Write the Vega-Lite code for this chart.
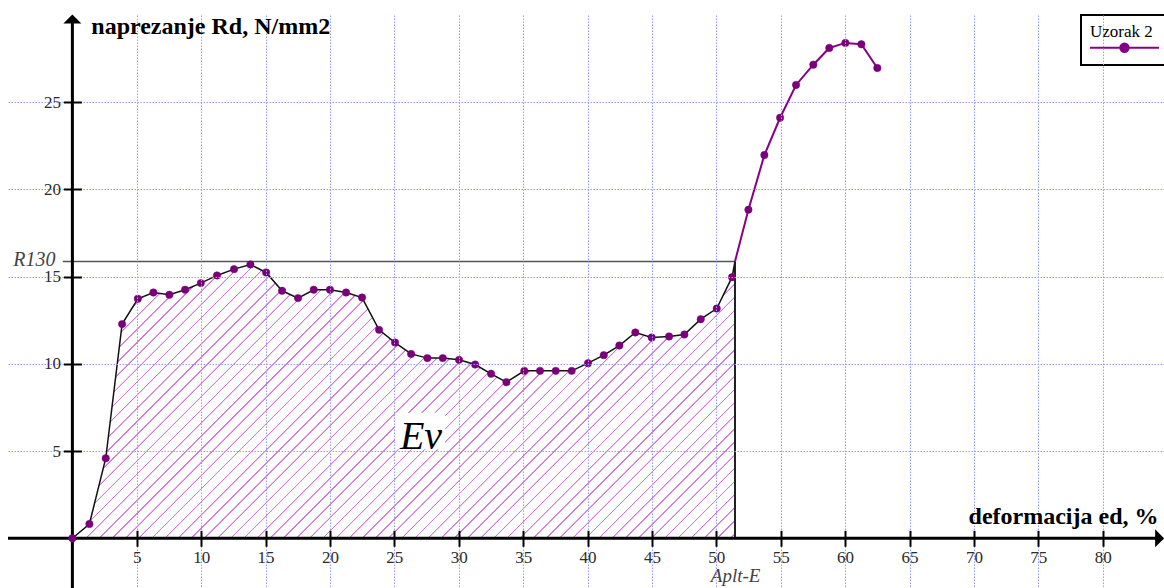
{
  "$schema": "https://vega.github.io/schema/vega-lite/v6.json",
  "width": 1156,
  "height": 573,
  "autosize": {"type": "none"},
  "padding": {"left": 8, "top": 15, "right": 0, "bottom": 0},
  "background": "white",
  "config": {"view": {"stroke": null}, "legend": {"strokeWidth": 2}},
  "datasets": {
    "curve": [
      {"e": 0, "r": 0, "p": "A", "d": 1},
      {"e": 1.32, "r": 0.82, "p": "A", "d": 1},
      {"e": 2.59, "r": 4.59, "p": "A", "d": 1},
      {"e": 3.86, "r": 12.28, "p": "A", "d": 1},
      {"e": 5.08, "r": 13.73, "p": "A", "d": 1},
      {"e": 6.29, "r": 14.09, "p": "A", "d": 1},
      {"e": 7.53, "r": 13.96, "p": "A", "d": 1},
      {"e": 8.75, "r": 14.25, "p": "A", "d": 1},
      {"e": 9.97, "r": 14.63, "p": "A", "d": 1},
      {"e": 11.23, "r": 15.07, "p": "A", "d": 1},
      {"e": 12.55, "r": 15.43, "p": "A", "d": 1},
      {"e": 13.82, "r": 15.7, "p": "A", "d": 1},
      {"e": 15.04, "r": 15.24, "p": "A", "d": 1},
      {"e": 16.28, "r": 14.19, "p": "A", "d": 1},
      {"e": 17.52, "r": 13.77, "p": "A", "d": 1},
      {"e": 18.74, "r": 14.25, "p": "A", "d": 1},
      {"e": 20.0, "r": 14.25, "p": "A", "d": 1},
      {"e": 21.25, "r": 14.09, "p": "A", "d": 1},
      {"e": 22.49, "r": 13.8, "p": "A", "d": 1},
      {"e": 23.81, "r": 11.95, "p": "A", "d": 1},
      {"e": 25.05, "r": 11.22, "p": "A", "d": 1},
      {"e": 26.3, "r": 10.57, "p": "A", "d": 1},
      {"e": 27.56, "r": 10.33, "p": "A", "d": 1},
      {"e": 28.76, "r": 10.33, "p": "A", "d": 1},
      {"e": 30.02, "r": 10.23, "p": "A", "d": 1},
      {"e": 31.27, "r": 9.96, "p": "A", "d": 1},
      {"e": 32.51, "r": 9.43, "p": "A", "d": 1},
      {"e": 33.7, "r": 8.95, "p": "A", "d": 1},
      {"e": 35.09, "r": 9.6, "p": "A", "d": 1},
      {"e": 36.31, "r": 9.6, "p": "A", "d": 1},
      {"e": 37.53, "r": 9.6, "p": "A", "d": 1},
      {"e": 38.77, "r": 9.6, "p": "A", "d": 1},
      {"e": 40.04, "r": 10.04, "p": "A", "d": 1},
      {"e": 41.26, "r": 10.5, "p": "A", "d": 1},
      {"e": 42.47, "r": 11.05, "p": "A", "d": 1},
      {"e": 43.71, "r": 11.8, "p": "A", "d": 1},
      {"e": 44.98, "r": 11.51, "p": "A", "d": 1},
      {"e": 46.33, "r": 11.57, "p": "A", "d": 1},
      {"e": 47.52, "r": 11.68, "p": "A", "d": 1},
      {"e": 48.79, "r": 12.56, "p": "A", "d": 1},
      {"e": 50.03, "r": 13.17, "p": "A", "d": 1},
      {"e": 51.22, "r": 14.97, "p": "A", "d": 1},
      {"e": 51.45, "r": 15.87, "p": "A", "d": 0},
      {"e": 51.45, "r": 15.87, "p": "B", "d": 0},
      {"e": 52.49, "r": 18.84, "p": "B", "d": 1},
      {"e": 53.73, "r": 21.97, "p": "B", "d": 1},
      {"e": 54.95, "r": 24.11, "p": "B", "d": 1},
      {"e": 56.19, "r": 25.99, "p": "B", "d": 1},
      {"e": 57.53, "r": 27.15, "p": "B", "d": 1},
      {"e": 58.77, "r": 28.11, "p": "B", "d": 1},
      {"e": 60.02, "r": 28.4, "p": "B", "d": 1},
      {"e": 61.26, "r": 28.32, "p": "B", "d": 1},
      {"e": 62.5, "r": 26.96, "p": "B", "d": 1}
    ],
    "ann": [
      {"k": "hline", "e": -0.75, "e2": 51.45, "r": 15.87},
      {"k": "vline", "e": 51.45, "r": 0, "r2": 15.87},
      {"k": "xaxis", "e": -5, "e2": 84.14, "r": 0},
      {"k": "yaxis", "e": 0, "r": -2.85, "r2": 29.6},
      {"k": "up", "e": 0, "r": 29.77},
      {"k": "right", "e": 84.42, "r": 0},
      {"k": "box", "e": 25.05, "e2": 28.94, "r": 5.1, "r2": 7.2},
      {"k": "Ev", "e": 27.07, "r": 5.1, "t": "Ev"},
      {"k": "R130", "e": -1.32, "r": 15.6, "t": "R130"},
      {"k": "Aplt", "e": 51.5, "r": -2.5, "t": "Aplt-E"}
    ]
  },
  "encoding": {
    "x": {
      "field": "e", "type": "quantitative",
      "scale": {"domain": [-5, 84.76], "nice": false, "zero": false},
      "axis": {
        "values": [5, 10, 15, 20, 25, 30, 35, 40, 45, 50, 55, 60, 65, 70, 75, 80],
        "grid": true, "gridColor": "#9999ff", "gridDash": [1.5, 1.5], "gridWidth": 1,
        "domain": false, "ticks": true, "tickSize": 16, "tickWidth": 2, "tickColor": "#000",
        "labelFont": "Liberation Serif", "labelFontSize": 17, "labelColor": "#2b2b2b",
        "labelPadding": 3, "labelBaseline": "top", "labelFlush": false, "labelOverlap": false,
        "offset": {"expr": "scale('y', 0) - 8 - height"},
        "title": "deformacija ed, %", "titleFont": "Liberation Serif", "titleFontSize": 24,
        "titleFontWeight": "bold", "titleColor": "#000", "titleAlign": "right",
        "titleBaseline": "alphabetic", "titleAngle": 0, "titleX": 1150, "titleY": -7,
        "zindex": 1
      }
    },
    "y": {
      "field": "r", "type": "quantitative",
      "scale": {"domain": [-2.85, 30], "nice": false, "zero": false},
      "axis": {
        "values": [5, 10, 15, 20, 25],
        "grid": true, "gridColor": "#9999ff", "gridDash": [1.5, 1.5], "gridWidth": 1,
        "domain": false, "ticks": true, "tickSize": 18, "tickWidth": 2, "tickColor": "#000",
        "labelFont": "Liberation Serif", "labelFontSize": 17, "labelColor": "#2b2b2b",
        "labelPadding": 3, "labelFlush": false, "labelOverlap": false,
        "offset": {"expr": "-(scale('x', 0) + 9)"},
        "title": "naprezanje Rd, N/mm2", "titleFont": "Liberation Serif", "titleFontSize": 24,
        "titleFontWeight": "bold", "titleColor": "#000", "titleAlign": "left",
        "titleBaseline": "alphabetic", "titleAngle": 0, "titleX": 9.4, "titleY": 18.3,
        "zindex": 1
      }
    }
  },
  "layer": [
    {
      "data": {"name": "curve"},
      "transform": [{"filter": "datum.p == 'A'"}],
      "mark": {
        "type": "area", "strokeWidth": 0,
        "fill": {
          "gradient": "linear", "x1": 0, "y1": 0, "x2": 1.2071, "y2": 0.5042,
          "stops": [
{"offset":0,"color":"#fff"},{"offset":0.0005,"color":"#d278d6"},{"offset":0.0016,"color":"#d278d6"},{"offset":0.0021,"color":"#fff"},
{"offset":0.014,"color":"#fff"},{"offset":0.0145,"color":"#d278d6"},{"offset":0.0156,"color":"#d278d6"},{"offset":0.0161,"color":"#fff"},
{"offset":0.028,"color":"#fff"},{"offset":0.0285,"color":"#d278d6"},{"offset":0.0296,"color":"#d278d6"},{"offset":0.0301,"color":"#fff"},
{"offset":0.042,"color":"#fff"},{"offset":0.0425,"color":"#d278d6"},{"offset":0.0436,"color":"#d278d6"},{"offset":0.0441,"color":"#fff"},
{"offset":0.056,"color":"#fff"},{"offset":0.0565,"color":"#d278d6"},{"offset":0.0576,"color":"#d278d6"},{"offset":0.0581,"color":"#fff"},
{"offset":0.07,"color":"#fff"},{"offset":0.0705,"color":"#d278d6"},{"offset":0.0716,"color":"#d278d6"},{"offset":0.0721,"color":"#fff"},
{"offset":0.084,"color":"#fff"},{"offset":0.0845,"color":"#d278d6"},{"offset":0.0856,"color":"#d278d6"},{"offset":0.0861,"color":"#fff"},
{"offset":0.098,"color":"#fff"},{"offset":0.0985,"color":"#d278d6"},{"offset":0.0996,"color":"#d278d6"},{"offset":0.1001,"color":"#fff"},
{"offset":0.112,"color":"#fff"},{"offset":0.1125,"color":"#d278d6"},{"offset":0.1136,"color":"#d278d6"},{"offset":0.1141,"color":"#fff"},
{"offset":0.126,"color":"#fff"},{"offset":0.1265,"color":"#d278d6"},{"offset":0.1276,"color":"#d278d6"},{"offset":0.1281,"color":"#fff"},
{"offset":0.14,"color":"#fff"},{"offset":0.1405,"color":"#d278d6"},{"offset":0.1416,"color":"#d278d6"},{"offset":0.1421,"color":"#fff"},
{"offset":0.154,"color":"#fff"},{"offset":0.1545,"color":"#d278d6"},{"offset":0.1556,"color":"#d278d6"},{"offset":0.1561,"color":"#fff"},
{"offset":0.168,"color":"#fff"},{"offset":0.1685,"color":"#d278d6"},{"offset":0.1696,"color":"#d278d6"},{"offset":0.1701,"color":"#fff"},
{"offset":0.182,"color":"#fff"},{"offset":0.1825,"color":"#d278d6"},{"offset":0.1836,"color":"#d278d6"},{"offset":0.1841,"color":"#fff"},
{"offset":0.196,"color":"#fff"},{"offset":0.1965,"color":"#d278d6"},{"offset":0.1976,"color":"#d278d6"},{"offset":0.1981,"color":"#fff"},
{"offset":0.21,"color":"#fff"},{"offset":0.2105,"color":"#d278d6"},{"offset":0.2116,"color":"#d278d6"},{"offset":0.2121,"color":"#fff"},
{"offset":0.224,"color":"#fff"},{"offset":0.2245,"color":"#d278d6"},{"offset":0.2256,"color":"#d278d6"},{"offset":0.2261,"color":"#fff"},
{"offset":0.238,"color":"#fff"},{"offset":0.2385,"color":"#d278d6"},{"offset":0.2396,"color":"#d278d6"},{"offset":0.2401,"color":"#fff"},
{"offset":0.252,"color":"#fff"},{"offset":0.2525,"color":"#d278d6"},{"offset":0.2536,"color":"#d278d6"},{"offset":0.2541,"color":"#fff"},
{"offset":0.266,"color":"#fff"},{"offset":0.2665,"color":"#d278d6"},{"offset":0.2676,"color":"#d278d6"},{"offset":0.2681,"color":"#fff"},
{"offset":0.28,"color":"#fff"},{"offset":0.2805,"color":"#d278d6"},{"offset":0.2816,"color":"#d278d6"},{"offset":0.2821,"color":"#fff"},
{"offset":0.294,"color":"#fff"},{"offset":0.2945,"color":"#d278d6"},{"offset":0.2956,"color":"#d278d6"},{"offset":0.2961,"color":"#fff"},
{"offset":0.308,"color":"#fff"},{"offset":0.3085,"color":"#d278d6"},{"offset":0.3096,"color":"#d278d6"},{"offset":0.3101,"color":"#fff"},
{"offset":0.322,"color":"#fff"},{"offset":0.3225,"color":"#d278d6"},{"offset":0.3236,"color":"#d278d6"},{"offset":0.3241,"color":"#fff"},
{"offset":0.336,"color":"#fff"},{"offset":0.3365,"color":"#d278d6"},{"offset":0.3376,"color":"#d278d6"},{"offset":0.3381,"color":"#fff"},
{"offset":0.35,"color":"#fff"},{"offset":0.3505,"color":"#d278d6"},{"offset":0.3516,"color":"#d278d6"},{"offset":0.3521,"color":"#fff"},
{"offset":0.364,"color":"#fff"},{"offset":0.3645,"color":"#d278d6"},{"offset":0.3656,"color":"#d278d6"},{"offset":0.3661,"color":"#fff"},
{"offset":0.378,"color":"#fff"},{"offset":0.3785,"color":"#d278d6"},{"offset":0.3796,"color":"#d278d6"},{"offset":0.3801,"color":"#fff"},
{"offset":0.392,"color":"#fff"},{"offset":0.3925,"color":"#d278d6"},{"offset":0.3936,"color":"#d278d6"},{"offset":0.3941,"color":"#fff"},
{"offset":0.406,"color":"#fff"},{"offset":0.4065,"color":"#d278d6"},{"offset":0.4076,"color":"#d278d6"},{"offset":0.4081,"color":"#fff"},
{"offset":0.42,"color":"#fff"},{"offset":0.4205,"color":"#d278d6"},{"offset":0.4216,"color":"#d278d6"},{"offset":0.4221,"color":"#fff"},
{"offset":0.434,"color":"#fff"},{"offset":0.4345,"color":"#d278d6"},{"offset":0.4356,"color":"#d278d6"},{"offset":0.4361,"color":"#fff"},
{"offset":0.448,"color":"#fff"},{"offset":0.4485,"color":"#d278d6"},{"offset":0.4496,"color":"#d278d6"},{"offset":0.4501,"color":"#fff"},
{"offset":0.462,"color":"#fff"},{"offset":0.4625,"color":"#d278d6"},{"offset":0.4636,"color":"#d278d6"},{"offset":0.4641,"color":"#fff"},
{"offset":0.476,"color":"#fff"},{"offset":0.4765,"color":"#d278d6"},{"offset":0.4776,"color":"#d278d6"},{"offset":0.4781,"color":"#fff"},
{"offset":0.49,"color":"#fff"},{"offset":0.4905,"color":"#d278d6"},{"offset":0.4916,"color":"#d278d6"},{"offset":0.4921,"color":"#fff"},
{"offset":0.504,"color":"#fff"},{"offset":0.5045,"color":"#d278d6"},{"offset":0.5056,"color":"#d278d6"},{"offset":0.5061,"color":"#fff"},
{"offset":0.518,"color":"#fff"},{"offset":0.5185,"color":"#d278d6"},{"offset":0.5196,"color":"#d278d6"},{"offset":0.5201,"color":"#fff"},
{"offset":0.532,"color":"#fff"},{"offset":0.5325,"color":"#d278d6"},{"offset":0.5336,"color":"#d278d6"},{"offset":0.5341,"color":"#fff"},
{"offset":0.546,"color":"#fff"},{"offset":0.5465,"color":"#d278d6"},{"offset":0.5476,"color":"#d278d6"},{"offset":0.5481,"color":"#fff"},
{"offset":0.56,"color":"#fff"},{"offset":0.5605,"color":"#d278d6"},{"offset":0.5616,"color":"#d278d6"},{"offset":0.5621,"color":"#fff"},
{"offset":0.574,"color":"#fff"},{"offset":0.5745,"color":"#d278d6"},{"offset":0.5756,"color":"#d278d6"},{"offset":0.5761,"color":"#fff"},
{"offset":0.588,"color":"#fff"},{"offset":0.5885,"color":"#d278d6"},{"offset":0.5896,"color":"#d278d6"},{"offset":0.5901,"color":"#fff"},
{"offset":0.602,"color":"#fff"},{"offset":0.6025,"color":"#d278d6"},{"offset":0.6036,"color":"#d278d6"},{"offset":0.6041,"color":"#fff"},
{"offset":0.616,"color":"#fff"},{"offset":0.6165,"color":"#d278d6"},{"offset":0.6176,"color":"#d278d6"},{"offset":0.6181,"color":"#fff"},
{"offset":0.63,"color":"#fff"},{"offset":0.6305,"color":"#d278d6"},{"offset":0.6316,"color":"#d278d6"},{"offset":0.6321,"color":"#fff"},
{"offset":0.644,"color":"#fff"},{"offset":0.6445,"color":"#d278d6"},{"offset":0.6456,"color":"#d278d6"},{"offset":0.6461,"color":"#fff"},
{"offset":0.658,"color":"#fff"},{"offset":0.6585,"color":"#d278d6"},{"offset":0.6596,"color":"#d278d6"},{"offset":0.6601,"color":"#fff"},
{"offset":0.672,"color":"#fff"},{"offset":0.6725,"color":"#d278d6"},{"offset":0.6736,"color":"#d278d6"},{"offset":0.6741,"color":"#fff"},
{"offset":0.686,"color":"#fff"},{"offset":0.6865,"color":"#d278d6"},{"offset":0.6876,"color":"#d278d6"},{"offset":0.6881,"color":"#fff"},
{"offset":0.7,"color":"#fff"},{"offset":0.7005,"color":"#d278d6"},{"offset":0.7016,"color":"#d278d6"},{"offset":0.7021,"color":"#fff"},
{"offset":0.714,"color":"#fff"},{"offset":0.7145,"color":"#d278d6"},{"offset":0.7156,"color":"#d278d6"},{"offset":0.7161,"color":"#fff"},
{"offset":0.728,"color":"#fff"},{"offset":0.7285,"color":"#d278d6"},{"offset":0.7296,"color":"#d278d6"},{"offset":0.7301,"color":"#fff"},
{"offset":0.742,"color":"#fff"},{"offset":0.7425,"color":"#d278d6"},{"offset":0.7436,"color":"#d278d6"},{"offset":0.7441,"color":"#fff"},
{"offset":0.756,"color":"#fff"},{"offset":0.7565,"color":"#d278d6"},{"offset":0.7576,"color":"#d278d6"},{"offset":0.7581,"color":"#fff"},
{"offset":0.77,"color":"#fff"},{"offset":0.7705,"color":"#d278d6"},{"offset":0.7716,"color":"#d278d6"},{"offset":0.7721,"color":"#fff"},
{"offset":0.784,"color":"#fff"},{"offset":0.7845,"color":"#d278d6"},{"offset":0.7856,"color":"#d278d6"},{"offset":0.7861,"color":"#fff"},
{"offset":0.798,"color":"#fff"},{"offset":0.7985,"color":"#d278d6"},{"offset":0.7996,"color":"#d278d6"},{"offset":0.8001,"color":"#fff"},
{"offset":0.812,"color":"#fff"},{"offset":0.8125,"color":"#d278d6"},{"offset":0.8136,"color":"#d278d6"},{"offset":0.8141,"color":"#fff"},
{"offset":0.826,"color":"#fff"},{"offset":0.8265,"color":"#d278d6"},{"offset":0.8276,"color":"#d278d6"},{"offset":0.8281,"color":"#fff"},
{"offset":0.84,"color":"#fff"},{"offset":0.8405,"color":"#d278d6"},{"offset":0.8416,"color":"#d278d6"},{"offset":0.8421,"color":"#fff"},
{"offset":0.854,"color":"#fff"},{"offset":0.8545,"color":"#d278d6"},{"offset":0.8556,"color":"#d278d6"},{"offset":0.8561,"color":"#fff"},
{"offset":0.868,"color":"#fff"},{"offset":0.8685,"color":"#d278d6"},{"offset":0.8696,"color":"#d278d6"},{"offset":0.8701,"color":"#fff"},
{"offset":0.882,"color":"#fff"},{"offset":0.8825,"color":"#d278d6"},{"offset":0.8836,"color":"#d278d6"},{"offset":0.8841,"color":"#fff"},
{"offset":0.896,"color":"#fff"},{"offset":0.8965,"color":"#d278d6"},{"offset":0.8976,"color":"#d278d6"},{"offset":0.8981,"color":"#fff"},
{"offset":0.91,"color":"#fff"},{"offset":0.9105,"color":"#d278d6"},{"offset":0.9116,"color":"#d278d6"},{"offset":0.9121,"color":"#fff"},
{"offset":0.924,"color":"#fff"},{"offset":0.9245,"color":"#d278d6"},{"offset":0.9256,"color":"#d278d6"},{"offset":0.9261,"color":"#fff"},
{"offset":0.938,"color":"#fff"},{"offset":0.9385,"color":"#d278d6"},{"offset":0.9396,"color":"#d278d6"},{"offset":0.9401,"color":"#fff"},
{"offset":0.952,"color":"#fff"},{"offset":0.9525,"color":"#d278d6"},{"offset":0.9536,"color":"#d278d6"},{"offset":0.9541,"color":"#fff"},
{"offset":0.966,"color":"#fff"},{"offset":0.9665,"color":"#d278d6"},{"offset":0.9676,"color":"#d278d6"},{"offset":0.9681,"color":"#fff"},
{"offset":0.98,"color":"#fff"},{"offset":0.9805,"color":"#d278d6"},{"offset":0.9816,"color":"#d278d6"},{"offset":0.9821,"color":"#fff"},
{"offset":0.994,"color":"#fff"},{"offset":0.9945,"color":"#d278d6"},{"offset":0.9956,"color":"#d278d6"},{"offset":0.9961,"color":"#fff"}
          ]
        }
      },
      "encoding": {"y2": {"datum": 0}}
    },
    {
      "data": {"name": "ann"},
      "transform": [{"filter": "datum.k == 'box'"}],
      "mark": {"type": "rect", "color": "#ffffff"},
      "encoding": {"x2": {"field": "e2"}, "y2": {"field": "r2"}}
    },
    {
      "data": {"name": "ann"},
      "transform": [{"filter": "datum.k == 'Ev'"}],
      "mark": {"type": "text", "font": "Liberation Serif", "fontStyle": "italic", "fontSize": 40, "align": "center", "baseline": "alphabetic", "color": "#000"},
      "encoding": {"text": {"field": "t"}}
    },
    {
      "data": {"name": "ann"},
      "transform": [{"filter": "datum.k == 'hline'"}],
      "mark": {"type": "rule", "color": "#555555", "strokeWidth": 1.5},
      "encoding": {"x2": {"field": "e2"}}
    },
    {
      "data": {"name": "ann"},
      "transform": [{"filter": "datum.k == 'vline'"}],
      "mark": {"type": "rule", "color": "#222222", "strokeWidth": 2},
      "encoding": {"y2": {"field": "r2"}}
    },
    {
      "data": {"name": "ann"},
      "transform": [{"filter": "datum.k == 'xaxis'"}],
      "mark": {"type": "rule", "color": "#000000", "strokeWidth": 3},
      "encoding": {"x2": {"field": "e2"}}
    },
    {
      "data": {"name": "ann"},
      "transform": [{"filter": "datum.k == 'yaxis'"}],
      "mark": {"type": "rule", "color": "#000000", "strokeWidth": 3},
      "encoding": {"y2": {"field": "r2"}}
    },
    {
      "data": {"name": "ann"},
      "transform": [{"filter": "datum.k == 'up'"}],
      "mark": {"type": "point", "shape": "M0,-0.5L1,0.5L-1,0.5Z", "size": 324, "filled": true, "color": "#000", "opacity": 1}
    },
    {
      "data": {"name": "ann"},
      "transform": [{"filter": "datum.k == 'right'"}],
      "mark": {"type": "point", "shape": "M0.5,0L-0.5,-1L-0.5,1Z", "size": 324, "filled": true, "color": "#000", "opacity": 1}
    },
    {
      "data": {"name": "curve"},
      "transform": [{"filter": "datum.p == 'A'"}],
      "mark": {"type": "line", "color": "#111111", "strokeWidth": 1.5}
    },
    {
      "data": {"name": "curve"},
      "transform": [{"filter": "datum.p == 'B'"}],
      "mark": {"type": "line", "color": "#880088", "strokeWidth": 2}
    },
    {
      "data": {"name": "curve"},
      "transform": [{"filter": "datum.d == 1"}],
      "mark": {"type": "point", "filled": true, "size": 55, "opacity": 1, "stroke": "#7a007a", "strokeWidth": 0.5},
      "encoding": {
        "color": {
          "datum": "Uzorak 2", "type": "nominal",
          "scale": {"range": ["#7a007a"]},
          "title": "Uzorak 2",
          "legend": {
            "orient": "none", "legendX": 1073, "legendY": 0, "padding": 9,
            "strokeColor": "#000000", "fillColor": "#ffffff",
            "titleFont": "Liberation Serif", "titleFontSize": 17, "titleFontWeight": "normal",
            "titleColor": "#000000", "titlePadding": 2.7,
            "labelExpr": "''", "labelOffset": 60, "labelFontSize": 1,
            "symbolType": "M-11.5,0L11.5,0M1.4,0A1.4,1.4,0,1,1,-1.4,0A1.4,1.4,0,1,1,1.4,0Z",
            "symbolSize": 36, "symbolOffset": 30.5,
            "symbolStrokeColor": "#880088", "symbolStrokeWidth": 2,
            "symbolFillColor": "#7a007a", "symbolOpacity": 1
          }
        }
      }
    },
    {
      "data": {"name": "ann"},
      "transform": [{"filter": "datum.k == 'R130'"}],
      "mark": {"type": "text", "font": "Liberation Serif", "fontStyle": "italic", "fontSize": 20, "align": "right", "baseline": "alphabetic", "color": "#444444"},
      "encoding": {"text": {"field": "t"}}
    },
    {
      "data": {"name": "ann"},
      "transform": [{"filter": "datum.k == 'Aplt'"}],
      "mark": {"type": "text", "font": "Liberation Serif", "fontStyle": "italic", "fontSize": 19, "align": "center", "baseline": "alphabetic", "color": "#444444"},
      "encoding": {"text": {"field": "t"}}
    }
  ]
}
